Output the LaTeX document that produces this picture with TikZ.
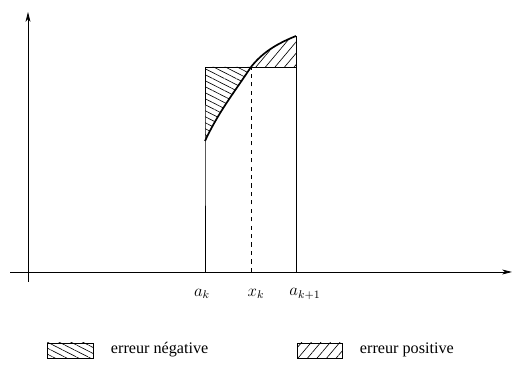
\documentclass[tikz,border=0pt]{standalone}
\usepackage{fontspec}
\setmainfont{Liberation Serif}
\usetikzlibrary{positioning,patterns.meta,arrows.meta}

\begin{document}
\begin{tikzpicture}[
    x=0.025cm, y=-0.025cm,
    axis/.style={-{Stealth[length=7pt,width=3.5pt,inset=2pt]}, semithick},
    edge/.style={semithick},
    curve/.style={line width=1.2pt},
    neghatch/.style={pattern={Lines[angle=-27,distance=3.8pt,line width=0.45pt]}},
    poshatch/.style={pattern={Lines[angle=50,distance=5.2pt,line width=0.45pt]}},
    lab/.style={font=\fontsize{11.5}{14}\selectfont}
]
    \useasboundingbox (0,0) rectangle (514,372);

    % Axes
    \coordinate (xl) at (10,272);
    \coordinate (xr) at (512,272);
    \coordinate (yb) at (28,282);
    \coordinate (yt) at (28,12);
    \draw[axis] (xl) -- (xr);
    \draw[axis] (yb) -- (yt);

    % Points of the interval
    \coordinate (ak) at (205,272);
    \coordinate (xk) at (251,272);
    \coordinate (ak1) at (296,272);
    \coordinate (tl) at (205,67);
    \coordinate (tm) at (251,67);
    \coordinate (tr) at (296,67);
    \coordinate (fa) at (205,141);
    \coordinate (fb) at (296,36);

    % Hatched errors
    \fill[neghatch] (tl) -- (tm) .. controls (233,94) and (218,113) .. (fa) -- cycle;
    \fill[poshatch] (tm) .. controls (262,53) and (276,44) .. (fb) -- (tr) -- cycle;

    % Rectangle
    \draw[edge] (ak) -- (fa) -- (tl) -- (tr);
    \draw[edge] (ak1) -- (fb);
    \draw[edge, dashed] (xk) -- (tm);

    % Curve
    \draw[curve] (fa) .. controls (218,113) and (233,94) .. (tm)
                 .. controls (262,53) and (276,44) .. (fb);

    % Labels
    \node[lab] (lak) at (202,294) {$a_k$};
    \node[lab] (lxk) at (256,294) {$x_k$};
    \node[lab] (lak1) at (305,294) {$a_{k+1}$};

    % Legend
    \draw[edge, neghatch] (47,343) rectangle (93,358);
    \node[lab, anchor=west] (lneg) at (106,350) {erreur négative};
    \draw[edge, poshatch] (297,343) rectangle (342,358);
    \node[lab, anchor=west] (lpos) at (355,350) {erreur positive};
\end{tikzpicture}
\end{document}
